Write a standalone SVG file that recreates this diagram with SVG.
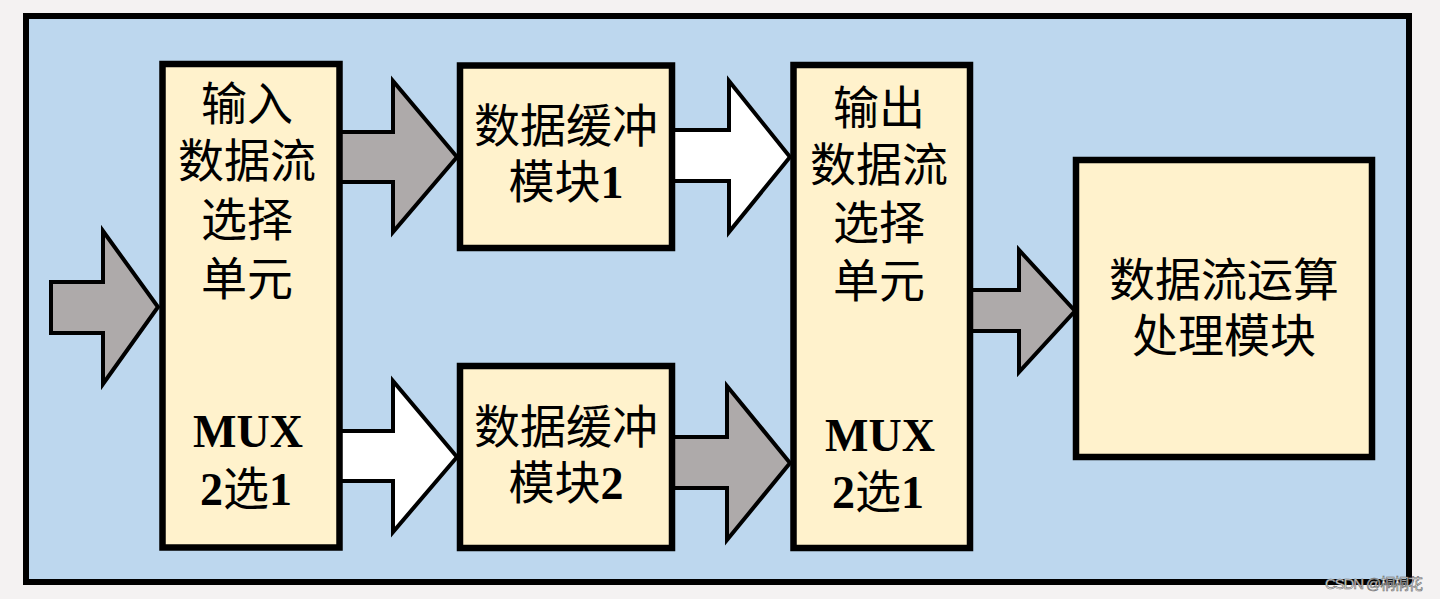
<svg xmlns="http://www.w3.org/2000/svg" width="1440" height="599" viewBox="0 0 1440 599">
<style>
.box{fill:#fff2cc;stroke:#000;stroke-width:6.5}
.arr{stroke:#000;stroke-width:4;stroke-linejoin:miter}
.g{fill:#aeaaaa}
.w{fill:#ffffff}
.t{font-family:"Liberation Serif","Noto Sans CJK SC",serif;font-size:46px;fill:#000;text-anchor:middle}
.b{font-weight:bold}
.wm{font-family:"Liberation Sans","Noto Sans CJK SC",sans-serif;font-size:15px;fill:#ffffff;stroke:#666;stroke-width:0.6}
</style>
<rect width="1440" height="599" fill="#f4f2f2"/>
<rect id="frame" x="26" y="16" width="1383" height="566" fill="#bdd7ee" stroke="#000" stroke-width="6"/>
<g id="connectors">
<polygon class="arr g" points="51,282 103,282 103,231 158,307 103,384 103,333 51,333"/>
<polygon class="arr g" points="340,132 393,132 393,81 457,157 393,232 393,182 340,182"/>
<polygon class="arr w" points="340,431 393,431 393,381 457,457 393,532 393,481 340,481"/>
<polygon class="arr w" points="672,130 729,130 729,81 790,157 729,232 729,181 672,181"/>
<polygon class="arr g" points="672,437 727,437 727,386 790,463 727,540 727,488 672,488"/>
<polygon class="arr g" points="970,290 1019,290 1019,250 1075,311 1019,372 1019,331 970,331"/>
</g>
<g id="in_mux">
<rect class="box" x="162.5" y="64" width="177" height="483.5"/>
<text class="t" x="247" y="120">输入</text>
<text class="t" x="247" y="177">数据流</text>
<text class="t" x="247" y="236">选择</text>
<text class="t" x="247" y="295">单元</text>
<text class="t b" x="248" y="447">MUX</text>
<text class="t" x="246" y="505"><tspan class="b">2</tspan>选<tspan class="b">1</tspan></text>
</g>
<g id="buf1">
<rect class="box" x="460" y="65.5" width="212" height="182.5"/>
<text class="t" x="566" y="142">数据缓冲</text>
<text class="t" x="566" y="198">模块<tspan class="b">1</tspan></text>
</g>
<g id="buf2">
<rect class="box" x="460" y="366" width="212" height="182"/>
<text class="t" x="566" y="443">数据缓冲</text>
<text class="t" x="566" y="499">模块<tspan class="b">2</tspan></text>
</g>
<g id="out_mux">
<rect class="box" x="793.5" y="65" width="176.5" height="483"/>
<text class="t" x="879" y="124">输出</text>
<text class="t" x="879" y="181">数据流</text>
<text class="t" x="879" y="239">选择</text>
<text class="t" x="879" y="297">单元</text>
<text class="t b" x="880" y="451">MUX</text>
<text class="t" x="878" y="508"><tspan class="b">2</tspan>选<tspan class="b">1</tspan></text>
</g>
<g id="proc">
<rect class="box" x="1076" y="160" width="296" height="297"/>
<text class="t" x="1224" y="296">数据流运算</text>
<text class="t" x="1224" y="352">处理模块</text>
</g>
<text class="wm" x="1325" y="589" textLength="98" lengthAdjust="spacing">CSDN @桐桐花</text>
</svg>
